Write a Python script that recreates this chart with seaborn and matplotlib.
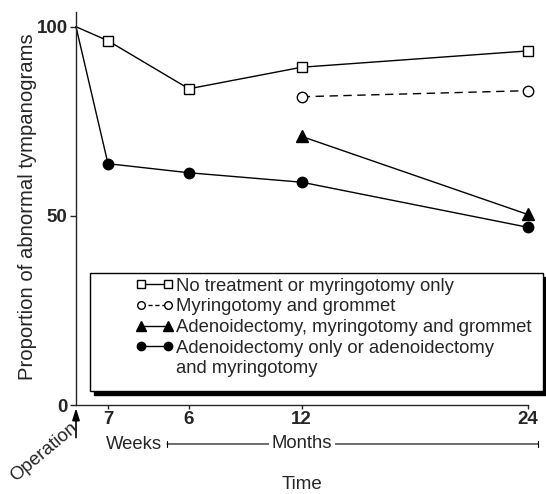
import matplotlib
matplotlib.use("Agg")
import matplotlib.pyplot as plt
import matplotlib.transforms as mtransforms
from matplotlib.lines import Line2D
from matplotlib.patches import Rectangle
import seaborn as sns

# ---------------- data ----------------
# time axis in months: operation, 7 weeks, 6, 12, 24 months
time_months = [0, 1.7, 6, 12, 24]
tick_positions = [1.7, 6, 12, 24]
tick_labels = ["7", "6", "12", "24"]
y_ticks = [0, 50, 100]

no_treatment = [100, 96.3, 83.6, 89.3, 93.6]
myr_grommet_time = [12, 24]
myr_grommet = [81.5, 83.1]
aden_myr_grommet_time = [12, 24]
aden_myr_grommet = [71.0, 50.4]
aden_only = [100, 63.8, 61.4, 58.9, 47.0]

legend_labels = [
    "No treatment or myringotomy only",
    "Myringotomy and grommet",
    "Adenoidectomy, myringotomy and grommet",
    "Adenoidectomy only or adenoidectomy",
    "and myringotomy",
]

# ---------------- style ----------------
sns.set_style("ticks")
plt.rcParams["font.family"] = ["Liberation Sans", "DejaVu Sans"]
plt.rcParams["axes.linewidth"] = 1.0

W, H = 546, 494
fig = plt.figure(figsize=(W / 100, H / 100), dpi=100)
ax_left, ax_right, ax_bottom, ax_top = 76, 527.5, 405, 12
ax = fig.add_axes([ax_left / W, (H - ax_bottom) / H,
                   (ax_right - ax_left) / W, (ax_bottom - ax_top) / H])

lw = 1.0
common = dict(ax=ax, color="black", linewidth=lw, estimator=None, sort=False,
              clip_on=False, legend=False)

sns.lineplot(x=time_months, y=no_treatment, marker="s", markersize=7.5,
             markerfacecolor="white", markeredgecolor="black",
             markeredgewidth=1.0, markevery=[1, 2, 3, 4], **common)
sns.lineplot(x=myr_grommet_time, y=myr_grommet, marker="o", markersize=7.5,
             markerfacecolor="white", markeredgecolor="black",
             markeredgewidth=1.0, linestyle=(0, (6, 4)), **common)
sns.lineplot(x=aden_myr_grommet_time, y=aden_myr_grommet, marker="^",
             markersize=8.5, markerfacecolor="black", markeredgecolor="black",
             markeredgewidth=1.0, **common)
sns.lineplot(x=time_months, y=aden_only, marker="o", markersize=7.5,
             markerfacecolor="black", markeredgecolor="black",
             markeredgewidth=1.0, markevery=[1, 2, 3, 4], **common)

ax.set_xlim(0, 24)
ax.set_ylim(0, 103.9)
sns.despine(ax=ax)

ax.set_xticks(tick_positions)
ax.set_xticklabels(tick_labels, fontweight="bold", fontsize=13.5)
ax.set_yticks(y_ticks)
ax.set_yticklabels([str(v) for v in y_ticks], fontweight="bold", fontsize=13.5)
ax.tick_params(axis="x", direction="out", length=3, width=1, pad=1.5)
ax.tick_params(axis="y", direction="out", length=4, width=1, pad=2)

ax.set_ylabel("Proportion of abnormal tympanograms", fontsize=14.6)
ax.yaxis.set_label_coords(-0.086, 0.505)
ax.set_xlabel("Time", fontsize=13.5)
ax.xaxis.set_label_coords(0.5, -0.18)

# ---------------- legend ----------------
lms = 5.5
handles = [
    Line2D([0], [0], color="black", lw=lw, marker="s", ms=lms, mfc="white",
           mec="black", mew=1.0),
    Line2D([0], [0], color="black", lw=lw, ls=(0, (3, 2)), marker="o", ms=lms,
           mfc="white", mec="black", mew=1.0),
    Line2D([0], [0], color="black", lw=lw, marker="^", ms=lms + 1, mfc="black",
           mec="black", mew=1.0),
    Line2D([0], [0], color="black", lw=lw, marker="o", ms=lms + 0.5,
           mfc="black", mec="black", mew=1.0),
    Line2D([], [], ls="none", marker=""),
]
leg = ax.legend(handles, legend_labels, loc="upper left",
                bbox_to_anchor=(0.1318, 0.324), frameon=False, fontsize=13.3,
                handlelength=2.05, handletextpad=0.15, labelspacing=0.2,
                borderpad=0, borderaxespad=0, numpoints=2)
leg.set_zorder(6)

fx0, fx1, fy0, fy1 = 0.031, 1.0343, 0.0356, 0.3359
shadow_tr = ax.transAxes + mtransforms.ScaledTranslation(4 / 100, -4 / 100,
                                                        fig.dpi_scale_trans)
ax.add_patch(Rectangle((fx0, fy0), fx1 - fx0, fy1 - fy0, transform=shadow_tr,
                       facecolor="black", edgecolor="black", lw=1,
                       clip_on=False, zorder=4))
ax.add_patch(Rectangle((fx0, fy0), fx1 - fx0, fy1 - fy0, transform=ax.transAxes,
                       facecolor="white", edgecolor="black", lw=1,
                       clip_on=False, zorder=5))

# ---------------- time annotations ----------------
blend = mtransforms.blended_transform_factory(ax.transData, ax.transAxes)
ax.annotate("", xy=(0, -0.008), xycoords=blend, xytext=(0, -0.083),
            textcoords=blend, annotation_clip=False,
            arrowprops=dict(arrowstyle="-|>,head_length=0.7,head_width=0.22",
                            color="black", lw=1.2, shrinkA=0, shrinkB=0))
fig.text(44 / W, (H - 452) / H, "Operation", rotation=40, ha="center",
         va="center", fontsize=13.5)

y_range = -0.0992
fig.text(134 / W, (H - 444) / H, "Weeks", ha="center", va="center",
         fontsize=13.3)
ax.annotate("", xy=(24.56, y_range), xycoords=blend, xytext=(4.84, y_range),
            textcoords=blend, annotation_clip=False,
            arrowprops=dict(arrowstyle="|-|,widthA=0.2,widthB=0.2",
                            color="black", lw=0.8, shrinkA=0, shrinkB=0))
ax.text(12, y_range, "Months", transform=blend, ha="center", va="center",
        fontsize=13.3, zorder=7,
        bbox=dict(facecolor="white", edgecolor="none", pad=2))

fig.savefig("out.png", dpi=100)
